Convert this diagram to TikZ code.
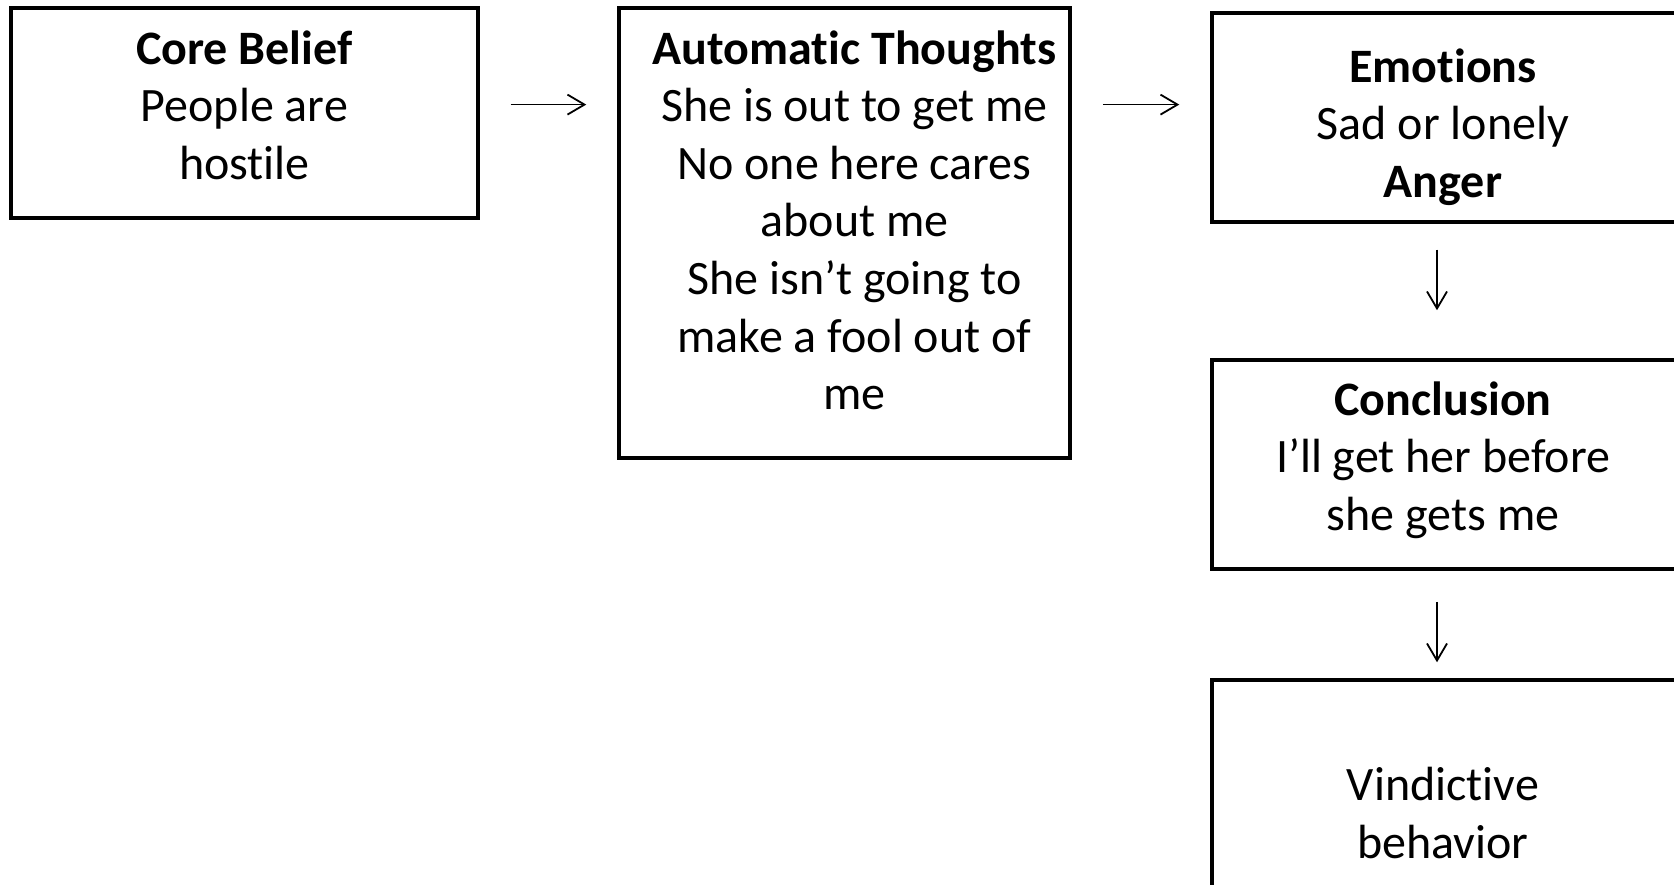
\documentclass[tikz,border=0pt]{standalone}
\usepackage{fontspec}
\setmainfont[Ligatures=NoCommon]{Carlito}
\usetikzlibrary{arrows.meta}
\begin{document}
\begin{tikzpicture}[x=1pt,y=-1pt,
  box/.style={draw=black, line width=3.5pt, rectangle, inner sep=0pt},
  txt/.style={inner sep=0pt, align=center, font=\fontsize{48}{57.6}\selectfont},
  arr/.style={-{Straight Barb[length=17pt,width=20pt,line width=1.8pt]}, line width=1.8pt}]
\useasboundingbox (0,0) rectangle (1674,885);
\node[box, minimum width=467pt, minimum height=210pt] (b1) at (244.4,112.8) {};
\node[box, minimum width=451pt, minimum height=450pt] (b2) at (844.5,233) {};
\node[box, minimum width=467pt, minimum height=209pt] (b3) at (1445.5,117.4) {};
\node[box, minimum width=467pt, minimum height=209pt] (b4) at (1445.5,464.5) {};
\node[box, minimum width=467pt, minimum height=266pt] (b5) at (1445.5,813) {};
\node[txt] (t1) at (244.4,105.3) {\textbf{Core Belief}\\People are\\hostile};
\node[txt] (t2) at (854.5,220.2) {\textbf{Automatic Thoughts}\\She is out to get me\\No one here cares\\about me\\She isn’t going to\\make a fool out of\\me};
\node[txt] (t3) at (1443,127) {\textbf{Emotions}\\Sad or lonely\\\textbf{Anger}};
\node[txt] (t4) at (1443,460.2) {\textbf{Conclusion}\\I’ll get her before\\she gets me};
\node[txt] (t5) at (1443,813) {Vindictive\\behavior};
\coordinate (lvl) at (0,104.6);
\coordinate (col) at (1437,0);
\draw[arr, shorten <=31pt, shorten >=31pt] (b1.east |- lvl) -- (b2.west |- lvl);
\draw[arr, shorten <=31pt, shorten >=31pt] (b2.east |- lvl) -- (b3.west |- lvl);
\draw[arr, shorten <=26pt, shorten >=48pt] (b3.south -| col) -- (b4.north -| col);
\draw[arr, shorten <=31pt, shorten >=16pt] (b4.south -| col) -- (b5.north -| col);
\end{tikzpicture}
\end{document}
